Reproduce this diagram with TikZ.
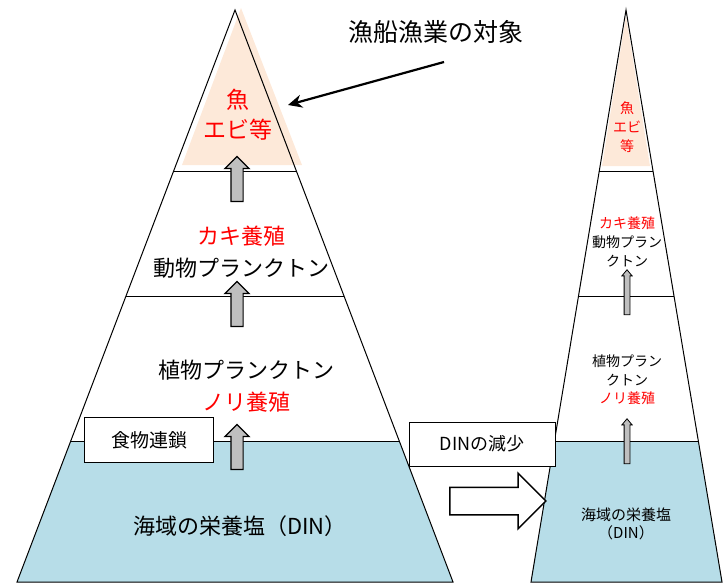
\documentclass[tikz,border=0pt]{standalone}
\usepackage{fontspec}
\setmainfont{Noto Sans CJK JP}
\usetikzlibrary{shapes,arrows.meta,positioning,calc}
\definecolor{dinblue}{RGB}{183,221,232}
\definecolor{fishpink}{RGB}{253,233,217}
\definecolor{arrowgray}{RGB}{191,191,191}

\begin{document}
\begin{tikzpicture}[
        x=1pt, y=-1pt,
        layer/.style={line width=1pt},
        uparrow/.style={single arrow, draw=black, line width=1.2pt, fill=arrowgray, shape border rotate=90, minimum height=45pt, single arrow head extend=6pt, inner sep=5.5pt},
        thinarrow/.style={uparrow, line width=0.8pt, inner sep=2.5pt, single arrow head extend=2.2pt, single arrow tip angle=80},
        bigtxt/.style={align=center, inner sep=0pt, font=\fontsize{22}{32}\selectfont},
        smalltxt/.style={align=center, inner sep=0pt, font=\fontsize{14}{19}\selectfont},
        tagbox/.style={rectangle, draw=black, fill=white, line width=1pt, align=center, inner sep=0pt},
        pointer/.style={-{Stealth[length=14pt,width=13pt]}, line width=2.2pt}
    ]
        \useasboundingbox (0,0) rectangle (728,583);

        % Pyramid corners
        \coordinate (apexL) at (235,10);
        \coordinate (blL) at (17,582);
        \coordinate (brL) at (453,582);
        \coordinate (apexR) at (626,10);
        \coordinate (blR) at (531,582);
        \coordinate (brR) at (722,582);

        % Fills
        \fill[fishpink] (241,8) -- (182,165) -- (302,165) -- cycle;
        \fill[fishpink] (626,16) -- (602,166) -- (650,166) -- cycle;
        \fill[dinblue] ($(apexL)!0.7552!(blL)$) -- ($(apexL)!0.7552!(brL)$) -- (brL) -- (blL) -- cycle;
        \fill[dinblue] ($(apexR)!0.7552!(blR)$) -- ($(apexR)!0.7552!(brR)$) -- (brR) -- (blR) -- cycle;

        % Outlines and layers
        \draw[layer] (apexL) -- (brL) -- (blL) -- cycle;
        \draw[layer] (apexR) -- (brR) -- (blR) -- cycle;
        \foreach \f in {0.2815,0.5,0.7552} {
            \draw[layer] ($(apexL)!\f!(blL)$) -- ($(apexL)!\f!(brL)$);
            \draw[layer] ($(apexR)!\f!(blR)$) -- ($(apexR)!\f!(brR)$);
        }

        % Left pyramid
        \node[bigtxt, text=red, font=\fontsize{23}{30}\selectfont] (fish) at (238,115) {魚\\エビ等};
        \node[bigtxt] (zoopl) at (241,252) {\textcolor{red}{カキ養殖}\\動物プランクトン};
        \node[bigtxt] (phytopl) at (246,386) {植物プランクトン\\\textcolor{red}{ノリ養殖}};
        \node[bigtxt] (din) at (240,526) {海域の栄養塩（DIN）};
        \node[uparrow] (upA) at (237,182) {};
        \node[uparrow] (upB) at (237,307) {};
        \node[uparrow] (upC) at (237,450) {};
        \node[tagbox, minimum width=129pt, minimum height=45pt, font=\fontsize{19}{22}\selectfont] (chain) at (149,440) {食物連鎖};

        % Target of fishery
        \node[inner sep=0pt, font=\fontsize{25}{28}\selectfont] (target) at (436,32) {漁船漁業の対象};
        \coordinate (tail) at (444,62);
        \coordinate (fishtip) at (288,105);
        \draw[pointer] (tail) -- (fishtip);

        % Right pyramid
        \node[smalltxt, text=red] (fishR) at (627,127) {魚\\エビ\\等};
        \node[smalltxt] (zooplR) at (627,242) {\textcolor{red}{カキ養殖}\\動物プラン\\クトン};
        \node[smalltxt, font=\fontsize{14}{18.5}\selectfont] (phytoplR) at (627,380) {植物プラン\\クトン\\\textcolor{red}{ノリ養殖}};
        \node[smalltxt, font=\fontsize{15}{18}\selectfont] (dinR) at (626,524) {海域の栄養塩\\（DIN）};
        \node[thinarrow] (upRA) at (627,294) {};
        \node[thinarrow] (upRB) at (627,443) {};

        % Decrease of DIN
        \node[tagbox, minimum width=146pt, minimum height=44pt, font=\fontsize{18}{22}\selectfont] (decrease) at (482,444) {DINの減少};
        \node[single arrow, draw=black, line width=1.5pt, fill=white, minimum height=96pt, single arrow head extend=14pt, inner sep=13pt] (shift) at (491,501) {};

    \end{tikzpicture}
\end{document}
